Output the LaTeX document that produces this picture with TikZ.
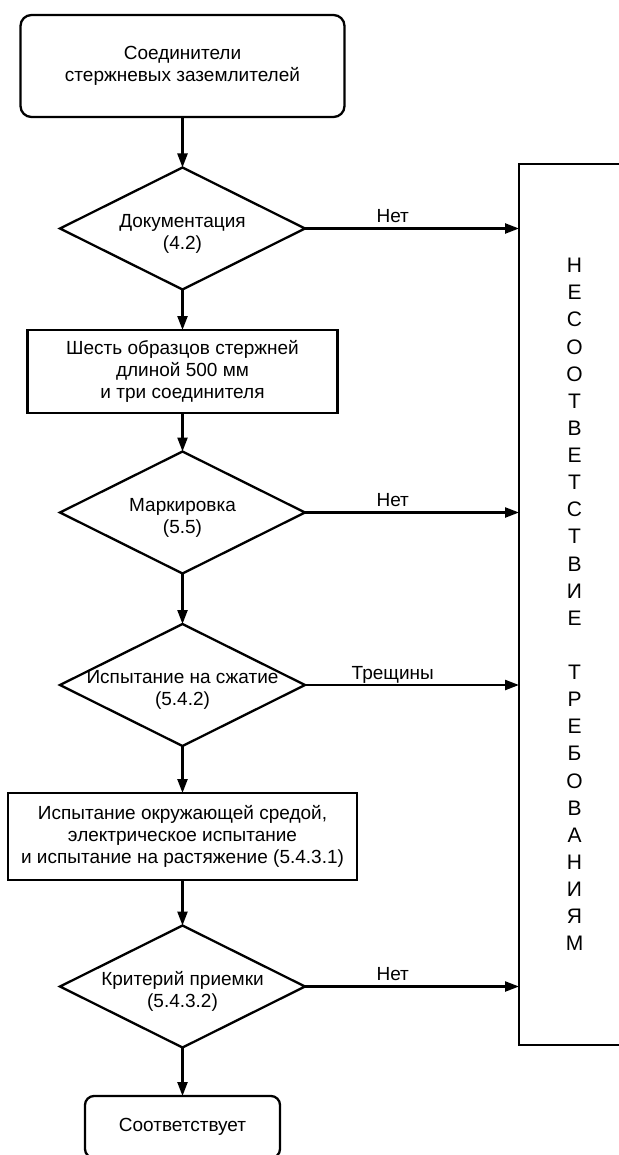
\documentclass[tikz,border=0pt]{standalone}
\usepackage{fontspec}
\setmainfont{Liberation Sans}
\usetikzlibrary{shapes.geometric,arrows.meta}
\begin{document}
\begin{tikzpicture}[x=1pt,y=-1pt,
  every node/.style={font=\fontsize{19}{22}\selectfont, inner sep=0pt, outer sep=0pt},
  ln/.style={line width=2.3pt},
  arr/.style={ln, -{Triangle[length=14pt,width=10pt]}},
  rbox/.style={draw, ln, rounded corners=11pt, align=center},
  sbox/.style={draw, ln, align=center},
  dia/.style={draw, ln, diamond, minimum width=245pt, minimum height=122pt},
  dtxt/.style={align=center},
  lbl/.style={anchor=base, yshift=6pt},
  vtxt/.style={draw, ln, align=center, font=\fontsize{21}{27.12}\selectfont}]
\useasboundingbox (0,0) rectangle (618,1155);
\fill[white] (0,0) rectangle (618,1155);

\node[rbox, minimum width=324pt, minimum height=102pt] (start) at (182.5,66) {Соединители\\стержневых заземлителей};
\node[dia] (d1) at (182.5,228.5) {};
\node[dtxt] (t1) at (182.5,233.5) {Документация\\(4.2)};
\node[sbox, minimum width=310pt, minimum height=83pt] (b2) at (182.5,371.5) {Шесть образцов стержней\\длиной 500 мм\\и три соединителя};
\node[dia] (d2) at (182.5,512.5) {};
\node[dtxt] (t2) at (182.5,517.5) {Маркировка\\(5.5)};
\node[dia] (d3) at (182.5,685) {};
\node[dtxt] (t3) at (182.5,690) {Испытание на сжатие\\(5.4.2)};
\node[sbox, minimum width=349pt, minimum height=87pt] (b3) at (182.5,836.5) {Испытание окружающей средой,\\электрическое испытание\\и испытание на растяжение (5.4.3.1)};
\node[dia] (d4) at (182.5,986.5) {};
\node[dtxt] (t4) at (182.5,991.5) {Критерий приемки\\(5.4.3.2)};
\node[rbox, rounded corners=9pt, minimum width=195pt, minimum height=62pt] (end) at (182.5,1127) {Соответствует};

\node[vtxt, minimum width=111pt, minimum height=881pt] (nc) at (574.5,604.5)
  {Н\\Е\\С\\О\\О\\Т\\В\\Е\\Т\\С\\Т\\В\\И\\Е\\[27.12pt]Т\\Р\\Е\\Б\\О\\В\\А\\Н\\И\\Я\\М};

\draw[arr] (start.south) -- (d1.north);
\draw[arr] (d1.south) -- (b2.north);
\draw[arr] (b2.south) -- (d2.north);
\draw[arr] (d2.south) -- (d3.north);
\draw[arr] (d3.south) -- (b3.north);
\draw[arr] (b3.south) -- (d4.north);
\draw[arr] (d4.south) -- (end.north);

\draw[arr] (d1.east) -- (d1.east -| nc.west) node[lbl, pos=0.41] {Нет};
\draw[arr] (d2.east) -- (d2.east -| nc.west) node[lbl, pos=0.41] {Нет};
\draw[arr] (d3.east) -- (d3.east -| nc.west) node[lbl, pos=0.41] {Трещины};
\draw[arr] (d4.east) -- (d4.east -| nc.west) node[lbl, pos=0.41] {Нет};
\end{tikzpicture}
\end{document}
